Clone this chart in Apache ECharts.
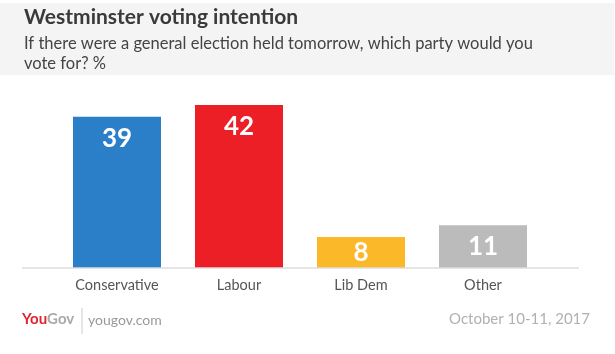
<!DOCTYPE html>
<html><head><meta charset="utf-8">
<script src="https://cdn.jsdelivr.net/npm/echarts@6/dist/echarts.min.js"></script>
<style>html,body{margin:0;padding:0;background:#fff}#c{width:615px;height:354px}</style>
</head><body><div id="c"></div>
<script>
const categories = ['Conservative', 'Labour', 'Lib Dem', 'Other'];
const values = [39, 42, 8, 11];
const colors = ['#2b7fc8', '#ec1f27', '#fbb829', '#bcbbbb'];
const titleText = 'Westminster voting intention';
const subtitleText = 'If there were a general election held tomorrow, which party would you\nvote for? %';
const dateText = 'October 10-11, 2017';

const chart = echarts.init(document.getElementById('c'));
const F = 'Lato, "Open Sans", sans-serif';
chart.setOption({
  animation: false,
  backgroundColor: '#fff',
  graphic: [
    {type: 'rect', shape: {x: 0, y: 3, width: 614, height: 72}, style: {fill: '#f4f4f5'}, z: -10},
    {type: 'text', left: 24, top: 7, style: {text: titleText, font: 'bold 21px ' + F, fill: '#3a3a3a'}},
    {type: 'text', left: 24, top: 34, style: {text: subtitleText, font: '16.5px ' + F, fill: '#444', lineHeight: 20}},
    {type: 'line', shape: {x1: 22, y1: 268, x2: 579, y2: 268}, style: {stroke: '#dddddd', lineWidth: 1.5}, z: 5},
    {type: 'text', left: 22, top: 312, style: {rich: {a: {font: 'bold 15px ' + F, fill: '#e3222b'}, b: {font: 'bold 15px ' + F, fill: '#a9a9a9'}}, text: '{a|You}{b|Gov}'}},
    {type: 'line', shape: {x1: 82, y1: 308, x2: 82, y2: 334}, style: {stroke: '#ccc', lineWidth: 1}},
    {type: 'text', left: 88, top: 313, style: {text: 'yougov.com', font: '14px ' + F, fill: '#999'}},
    {type: 'text', right: 25, top: 312, style: {text: dateText, font: '15px ' + F, fill: '#b0b0b0'}}
  ],
  grid: {left: 56, right: 71, top: 93.4, bottom: 86, containLabel: false},
  xAxis: {
    type: 'category', data: categories,
    axisLine: {show: false}, axisTick: {show: false},
    axisLabel: {color: '#555', fontSize: 14.5, fontFamily: F, margin: 10}
  },
  yAxis: {type: 'value', min: 0, max: 45, show: false, splitLine: {show: false}},
  series: [{
    type: 'bar', barWidth: 88,
    data: values.map((v, i) => ({
      value: v, itemStyle: {color: colors[i]},
      label: v >= 20 ? {position: 'insideTop', distance: 9} : {position: 'inside'}
    })),
    label: {show: true, color: '#fff', fontSize: 26, fontWeight: 'bold', fontFamily: F}
  }]
});
</script></body></html>
